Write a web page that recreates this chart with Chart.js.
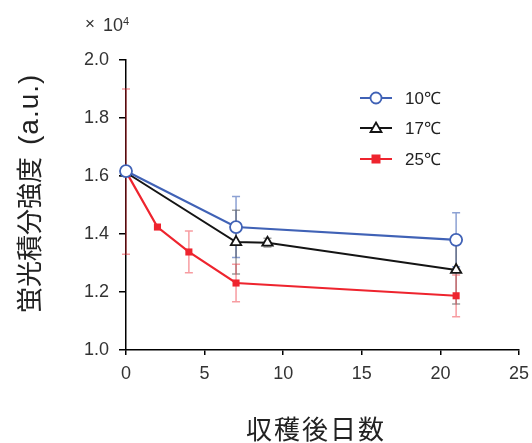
<!DOCTYPE html>
<html>
<head>
<meta charset="utf-8">
<script src="https://cdn.jsdelivr.net/npm/chart.js@4"></script>
<style>
  html, body { margin: 0; padding: 0; background: #fff; }
  #wrap { width: 532px; height: 443px; }
</style>
</head>
<body>
<div id="wrap"><canvas id="chart" width="532" height="443"></canvas></div>
<script>
// data
var labels = ['10℃', '17℃', '25℃'];
var days10 = [0, 7, 21];
var val10 = [1.617, 1.424, 1.38];
var err10 = [0, 0.105, 0.093];
var days17 = [0, 7, 9, 21];
var val17 = [1.612, 1.372, 1.37, 1.276];
var err17 = [0, 0.11, 0.015, 0.117];
var days25 = [0, 2, 4, 7, 21];
var val25 = [1.615, 1.424, 1.338, 1.231, 1.187];
var err25 = [0.285, 0, 0.072, 0.065, 0.072];
var xTicks = [0, 5, 10, 15, 20, 25];
var yTicks = [1.0, 1.2, 1.4, 1.6, 1.8, 2.0];

var blue = 'rgb(64,98,182)';
var red = 'rgb(238,36,46)';
var black = 'rgb(20,20,20)';

function pts(xs, ys) {
    return xs.map(function (x, i) { return { x: x, y: ys[i] }; });
}

var errs = [err10, err17, err25];
var errColors = ['rgba(64,98,182,0.6)', 'rgba(40,40,40,0.45)', 'rgba(238,36,46,0.45)'];

var errorBars = {
    id: 'errorBars',
    beforeDatasetsDraw: function (chart) {
        var c = chart.ctx, xs = chart.scales.x, ys = chart.scales.y;
        c.save();
        chart.data.datasets.forEach(function (ds, di) {
            ds.data.forEach(function (p, i) {
                var e = errs[di][i];
                if (!e) return;
                var px = xs.getPixelForValue(p.x);
                var top = ys.getPixelForValue(p.y + e);
                var bot = ys.getPixelForValue(p.y - e);
                c.strokeStyle = errColors[di];
                c.lineWidth = 1.5;
                c.beginPath();
                c.moveTo(px, top); c.lineTo(px, bot);
                c.moveTo(px - 4, top); c.lineTo(px + 4, top);
                c.moveTo(px - 4, bot); c.lineTo(px + 4, bot);
                c.stroke();
            });
        });
        c.restore();
    }
};

var extras = {
    id: 'extras',
    afterDraw: function (chart) {
        var c = chart.ctx;
        c.save();
        // legend
        var ly = [98, 128, 159];
        chart.data.datasets.forEach(function (ds, i) {
            var y = ly[i];
            c.strokeStyle = ds.borderColor;
            c.lineWidth = 2;
            c.beginPath(); c.moveTo(360, y); c.lineTo(392, y); c.stroke();
            var x = 376;
            c.lineWidth = 1.8;
            if (ds.pointStyle === 'circle') {
                c.fillStyle = '#fff';
                c.beginPath(); c.arc(x, y, 5.5, 0, Math.PI * 2); c.fill(); c.stroke();
            } else if (ds.pointStyle === 'triangle') {
                c.fillStyle = '#fff';
                c.beginPath(); c.moveTo(x, y - 5.5); c.lineTo(x + 5.5, y + 4); c.lineTo(x - 5.5, y + 4); c.closePath(); c.fill(); c.stroke();
            } else {
                c.fillStyle = ds.borderColor;
                c.fillRect(x - 4.5, y - 4.5, 9, 9);
            }
            c.fillStyle = '#222';
            c.font = '17px "Liberation Sans", Arial, sans-serif';
            c.textAlign = 'left';
            c.textBaseline = 'middle';
            c.fillText(ds.label, 405, y + 1);
        });
        // exponent
        c.fillStyle = '#333';
        c.textBaseline = 'alphabetic';
        c.font = '17px "Liberation Sans", Arial, sans-serif';
        c.fillText('×', 85, 29);
        c.font = '18px "Liberation Sans", Arial, sans-serif';
        c.fillText('10', 103, 31);
        c.font = '11px "Liberation Sans", Arial, sans-serif';
        c.fillText('4', 123, 25);
        // axis titles
        c.fillStyle = '#222';
        c.font = '26px "Noto Sans CJK JP", sans-serif';
        c.letterSpacing = '2px';
        c.textAlign = 'center';
        c.textBaseline = 'middle';
        c.fillText('収穫後日数', 316, 429);
        c.translate(29, 313);
        c.rotate(-Math.PI / 2);
        c.textAlign = 'left';
        c.letterSpacing = '0px';
        c.fillText('蛍光積分強度', 0, 0);
        c.font = '28px "Liberation Sans", Arial, sans-serif';
        c.letterSpacing = '1px';
        c.fillText('(a.u.)', 168, 1);
        c.restore();
    }
};

var tickFont = { family: '"Liberation Sans", Arial, sans-serif', size: 18 };

new Chart(document.getElementById('chart'), {
    type: 'line',
    data: {
        datasets: [{
            label: labels[0],
            data: pts(days10, val10),
            borderColor: blue,
            backgroundColor: '#fff',
            pointStyle: 'circle',
            pointRadius: 6,
            pointBorderWidth: 1.8,
            borderWidth: 2.2
        }, {
            label: labels[1],
            data: pts(days17, val17),
            borderColor: black,
            backgroundColor: '#fff',
            pointStyle: 'triangle',
            pointRadius: 6,
            pointBorderWidth: 1.8,
            borderWidth: 2
        }, {
            label: labels[2],
            data: pts(days25, val25),
            borderColor: red,
            backgroundColor: red,
            pointStyle: 'rect',
            pointRadius: 5,
            pointBorderWidth: 0,
            borderWidth: 2.2
        }]
    },
    options: {
        responsive: false,
        animation: false,
        layout: { padding: { top: 60, right: 13, left: 0, bottom: 0 } },
        datasets: { line: { clip: false, tension: 0 } },
        plugins: { legend: { display: false }, tooltip: { enabled: false } },
        scales: {
            x: {
                type: 'linear',
                min: 0, max: 25,
                afterBuildTicks: function (s) { s.ticks = xTicks.map(function (v) { return { value: v }; }); },
                afterFit: function (s) { s.height = 93; s.paddingRight = 0; },
                border: { color: '#000', width: 1.5 },
                grid: { drawOnChartArea: false, color: '#000', tickLength: 5, lineWidth: 1.5 },
                ticks: { color: '#333', font: tickFont, padding: 8, maxRotation: 0 }
            },
            y: {
                min: 1.0, max: 2.0,
                afterBuildTicks: function (s) { s.ticks = yTicks.map(function (v) { return { value: v }; }); },
                afterFit: function (s) { s.width = 126; },
                border: { color: '#000', width: 1.5 },
                grid: { drawOnChartArea: false, color: '#000', tickLength: 7, lineWidth: 1.5 },
                ticks: { color: '#333', font: tickFont, padding: 10, callback: function (v) { return v.toFixed(1); } }
            }
        }
    },
    plugins: [errorBars, extras]
});
</script>
</body>
</html>
